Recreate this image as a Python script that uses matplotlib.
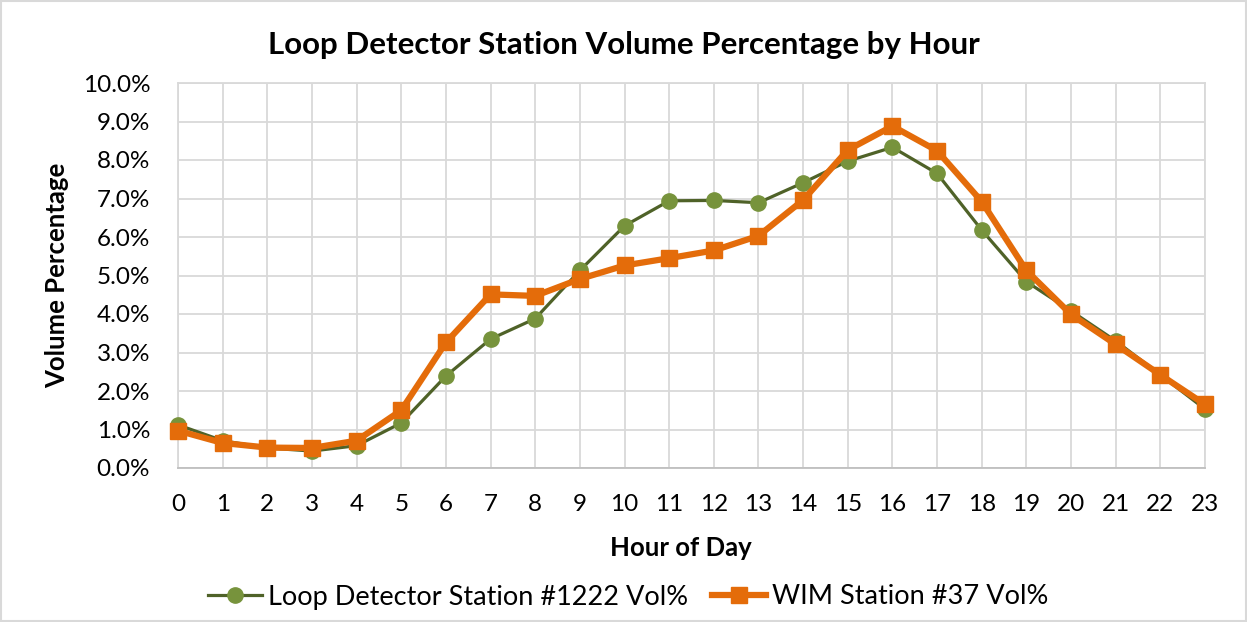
import matplotlib
matplotlib.use("Agg")
import matplotlib.pyplot as plt
from matplotlib.ticker import FuncFormatter, MultipleLocator
from matplotlib.patches import Rectangle

hours = list(range(24))
loop_vol = [1.12, 0.71, 0.52, 0.44, 0.58, 1.17, 2.39, 3.35, 3.88, 5.13, 6.29, 6.94,
            6.95, 6.89, 7.41, 7.97, 8.33, 7.65, 6.18, 4.84, 4.08, 3.30, 2.42, 1.53]
wim_vol = [0.97, 0.65, 0.53, 0.52, 0.71, 1.50, 3.26, 4.51, 4.47, 4.91, 5.26, 5.45,
           5.65, 6.03, 6.96, 8.26, 8.88, 8.24, 6.92, 5.13, 3.99, 3.21, 2.42, 1.65]
series_names = ["Loop Detector Station #1222 Vol%", "WIM Station #37 Vol%"]
title = "Loop Detector Station Volume Percentage by Hour"
xlabel = "Hour of Day"
ylabel = "Volume Percentage"

font = "Lato"
plt.rcParams['font.family'] = [font, 'DejaVu Sans']

W, H = 1247, 622
fig = plt.figure(figsize=(W/100, H/100), dpi=100)
ax = fig.add_axes([178/W, 1-468/H, (1205-178)/W, (468-83)/H])

ax.plot(hours, loop_vol, color="#4F6228", lw=2.3, marker="o", ms=11,
        mfc="#77933C", mec="#77933C", clip_on=False, zorder=3, label=series_names[0])
ax.plot(hours, wim_vol, color="#E46C0A", lw=4.5, marker="s", ms=11,
        mfc="#E46C0A", mec="#E46C0A", clip_on=False, zorder=4, label=series_names[1])

ax.set_xlim(0, 23)
ax.set_ylim(0, 10)
ax.set_xticks(hours)
ax.yaxis.set_major_locator(MultipleLocator(1))
ax.yaxis.set_major_formatter(FuncFormatter(lambda v, p: f"{v:.1f}%"))
ax.grid(True, color="#D9D9D9", lw=1.3)
ax.set_axisbelow(True)
for s in ax.spines.values():
    s.set_color("#D9D9D9")
    s.set_linewidth(1.3)
ax.spines['bottom'].set_color("#BFBFBF")
ax.tick_params(axis='both', length=0, labelsize=17.5, colors="black")
ax.tick_params(axis='y', pad=20)
ax.tick_params(axis='x', pad=19)

fig.text(0.5, 1-45/H, title, fontsize=22.5, fontweight='bold', ha='center', va='center')
fig.text(681/W, 1-548/H, xlabel, fontsize=18.5, fontweight='bold', ha='center', va='center')
fig.text(57/W, 1-275/H, ylabel, fontsize=18.5, fontweight='bold', ha='center', va='center',
         rotation=90)

leg = fig.legend(loc='center', bbox_to_anchor=(628/W, 1-597/H), ncol=2, frameon=False,
                 fontsize=19.5, handlelength=2.0, columnspacing=0.9, handletextpad=0.2)

fig.patches.append(Rectangle((0.001, 0.001), 0.998, 0.998, transform=fig.transFigure,
                             fill=False, edgecolor="#D9D9D9", lw=1.5))

fig.savefig("out.png", dpi=100)
